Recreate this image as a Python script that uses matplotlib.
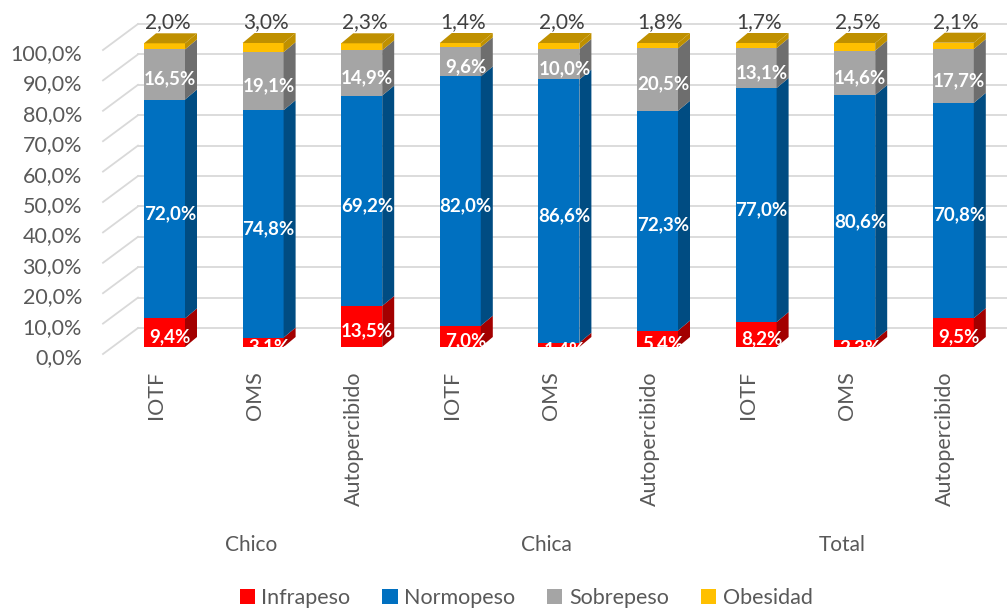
import numpy as np
import matplotlib.pyplot as plt
from matplotlib.patches import Patch, Polygon

plt.rcParams['font.family'] = ['Lato', 'DejaVu Sans']

groups = ['Chico', 'Chica', 'Total']
criteria = ['IOTF', 'OMS', 'Autopercibido']
series = ['Infrapeso', 'Normopeso', 'Sobrepeso', 'Obesidad']

infrapeso = [9.4, 3.1, 13.5, 7.0, 1.4, 5.4, 8.2, 2.3, 9.5]
normopeso = [72.0, 74.8, 69.2, 82.0, 86.6, 72.3, 77.0, 80.6, 70.8]
sobrepeso = [16.5, 19.1, 14.9, 9.6, 10.0, 20.5, 13.1, 14.6, 17.7]
obesidad = [2.0, 3.0, 2.3, 1.4, 2.0, 1.8, 1.7, 2.5, 2.1]

yticks = np.arange(0, 101, 10)

front_colors = ['#FF0000', '#0070C0', '#A5A5A5', '#FFC000']
side_colors = ['#A30000', '#004C82', '#6E6E6E', '#BF9000']
grid_color = '#D9D9D9'
text_color = '#595959'

W, H = 1007, 610
fig = plt.figure(figsize=(W / 100, H / 100), dpi=100)
ax = fig.add_axes([0, 0, 1, 1])
ax.set_axis_off()

# pixels per data unit, and where the first bar / baseline sit
sx, sy = 98.6, 3.04
x0px, y0px = 164.5, 347
ax.set_xlim(-x0px / sx, (W - x0px) / sx)
ax.set_ylim((y0px - H) / sy, y0px / sy)


def px(dx=0, dy=0):
    return dx / sx, dy / sy


bw = 41 / sx
ddx, ddy = px(12, 10)          # bar depth
front_dx, front_dy = px(-61.5, -7)   # front-left edge of the floor/axis plane
wall_dx, wall_dy = px(-26.5, 19)     # back wall
wall_right = (W - x0px) / sx

# back wall gridlines and the slanted side lines
for v in yticks:
    ax.plot([wall_dx, wall_right], [v + wall_dy] * 2, color=grid_color, lw=1.3, zorder=1)
    ax.plot([front_dx, wall_dx], [v + front_dy, v + wall_dy], color=grid_color, lw=1.3, zorder=1)
    ax.text(px(-82.5)[0], v + px(0, -11)[1], f'{v:.1f}%'.replace('.', ','),
            ha='right', va='center', fontsize=15.5, color=text_color)

data = np.array([infrapeso, normopeso, sobrepeso, obesidad])
x = np.arange(data.shape[1])
bottoms = np.vstack([np.zeros(data.shape[1]), np.cumsum(data, axis=0)[:-1]])

for k in range(len(series)):
    ax.bar(x, data[k], width=bw, bottom=bottoms[k], color=front_colors[k],
           linewidth=0, zorder=3)
    for i in x:
        b, v = bottoms[k, i], data[k, i]
        xr = i + bw / 2
        side = Polygon([(xr, b), (xr + ddx, b + ddy), (xr + ddx, b + v + ddy), (xr, b + v)],
                       closed=True, facecolor=side_colors[k], linewidth=0, zorder=3)
        ax.add_patch(side)
        if k == len(series) - 1:
            xl, top = i - bw / 2, b + v
            cap = Polygon([(xl, top), (xr, top), (xr + ddx, top + ddy), (xl + ddx, top + ddy)],
                          closed=True, facecolor=side_colors[k], linewidth=0, zorder=3)
            ax.add_patch(cap)

# data labels
for k in range(len(series)):
    for i in x:
        b, v = bottoms[k, i], data[k, i]
        lbl = f'{v:.1f}%'.replace('.', ',')
        if k < len(series) - 1:
            ax.text(i + px(5.5)[0], b + v / 2 + px(0, -4.5)[1], lbl, ha='center', va='center',
                    fontsize=13.5, fontweight='bold', color='white', zorder=5)
        else:
            ax.text(i + px(3)[0], b + v + px(0, 21)[1], lbl, ha='center', va='center',
                    fontsize=15, color='#404040', zorder=5)

# category axis: criteria then groups
for i in x:
    ax.text(i + px(-8)[0], px(0, -24)[1], criteria[i % 3], rotation=90,
            ha='center', va='top', fontsize=15.5, color=text_color)
for g, name in enumerate(groups):
    ax.text(3 * g + 1 + px(-12)[0], px(0, -198)[1], name,
            ha='center', va='center', fontsize=15, color=text_color)

handles = [Patch(facecolor=c, label=s) for c, s in zip(front_colors, series)]
leg = fig.legend(handles=handles, loc='lower center', bbox_to_anchor=(526 / W, -0.014),
                 ncol=4, frameon=False, fontsize=15.5, handlelength=0.7, handleheight=0.7,
                 handletextpad=0.3, columnspacing=1.5, borderaxespad=0.1)
for t in leg.get_texts():
    t.set_color(text_color)

fig.savefig('out.png', dpi=100)
